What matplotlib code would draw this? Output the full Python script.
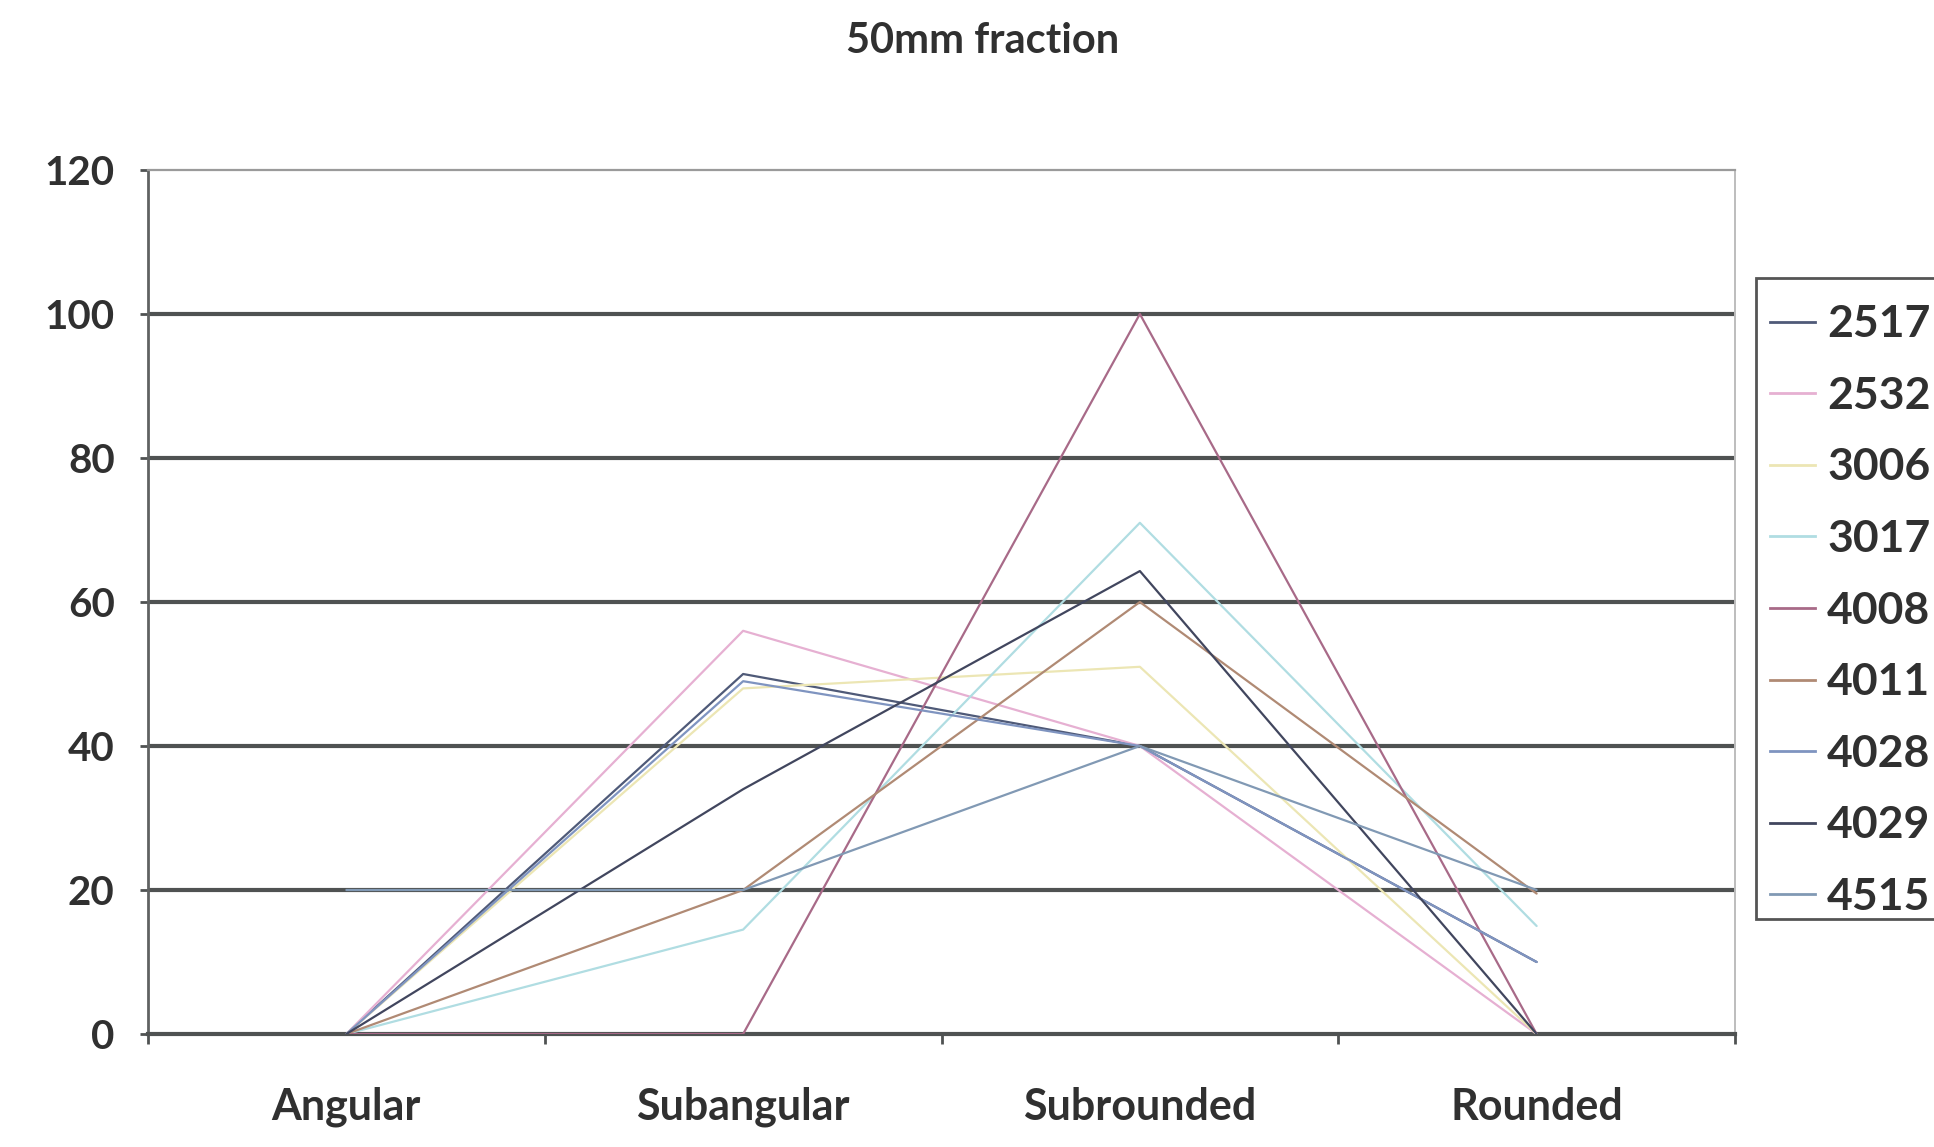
import matplotlib
matplotlib.use("Agg")
import matplotlib.pyplot as plt
from matplotlib.lines import Line2D
from matplotlib.patches import Rectangle

# ---- data ----
categories = ["Angular", "Subangular", "Subrounded", "Rounded"]
series_names = ["2517", "2532", "3006", "3017", "4008", "4011", "4028", "4029", "4515"]
s2517 = [0, 50, 40, 10]
s2532 = [0, 56, 40, 0]
s3006 = [0, 48, 51, 0]
s3017 = [0, 14.5, 71, 15]
s4008 = [0, 0, 100, 0]
s4011 = [0, 20, 60, 19.5]
s4028 = [0, 49, 40, 10]
s4029 = [0, 34, 64.3, 0]
s4515 = [20, 20, 40, 20]
yticks = [0, 20, 40, 60, 80, 100, 120]
title = "50mm fraction"

series_values = [s2517, s2532, s3006, s3017, s4008, s4011, s4028, s4029, s4515]
colors = ["#4f5a78", "#e6b0d2", "#ece6b4", "#b0dde2", "#a86a88",
          "#b08a74", "#7f94c0", "#41465e", "#8199b4"]

plt.rcParams["font.family"] = ["Lato", "DejaVu Sans"]
plt.rcParams["font.weight"] = "bold"

W, H = 1934, 1147
fig = plt.figure(figsize=(W / 100, H / 100), dpi=100)
fig.patch.set_facecolor("white")
ax = fig.add_axes([148 / W, 1 - 1034 / H, (1735 - 148) / W, (1034 - 170) / H])

grid_color = "#4f5252"
for v in yticks[1:-1]:
    ax.axhline(v, color=grid_color, lw=3.0, zorder=1)

x = list(range(len(categories)))
for name, vals, c in zip(series_names, series_values, colors):
    ax.plot(x, vals, color=c, lw=1.6, label=name, zorder=3, solid_capstyle="round")

ax.set_xlim(-0.5, len(categories) - 0.5)
ax.set_ylim(0, 120)
ax.set_yticks(yticks)
ax.set_yticklabels([str(v) for v in yticks], fontsize=29, color="#303030")
ax.set_xticks(x)
ax.set_xticklabels(categories, fontsize=31, color="#303030")
ax.set_xticks([i - 0.5 for i in range(len(categories) + 1)], minor=True)
ax.tick_params(axis="x", which="major", length=0, pad=38)
ax.tick_params(axis="x", which="minor", length=7, width=2, color=grid_color)
ax.tick_params(axis="y", which="major", length=6, width=2, color=grid_color, pad=18)

ax.spines["bottom"].set_color(grid_color)
ax.spines["bottom"].set_linewidth(3.0)
ax.spines["left"].set_color("#606262")
ax.spines["left"].set_linewidth(2.0)
ax.spines["top"].set_color("#9a9a9a")
ax.spines["top"].set_linewidth(1.6)
ax.spines["right"].set_color("#bdbdbd")
ax.spines["right"].set_linewidth(1.4)

fig.text(983 / W, 1 - 41 / H, title, ha="center", va="center", fontsize=30,
         color="#303030", fontweight="bold")

# legend frame (extends past the right edge as in the reference)
frame = Rectangle((1756 / W, 1 - 919 / H), (1960 - 1756) / W, (919 - 278) / H,
                  transform=fig.transFigure, facecolor="white",
                  edgecolor="#555555", linewidth=2.0, zorder=0)
fig.add_artist(frame)

handles = [Line2D([0], [0], color=c, lw=2.0) for c in colors]
leg = fig.legend(handles, series_names, loc="upper left",
                 bbox_to_anchor=(1757 / W, 1 - 291 / H), fontsize=32,
                 frameon=False, handlelength=1.0,
                 handletextpad=0.28, labelspacing=0.71, borderpad=0.3,
                 borderaxespad=0)
for t in leg.get_texts():
    t.set_color("#303030")

fig.savefig("out.png", dpi=100, facecolor="white")
